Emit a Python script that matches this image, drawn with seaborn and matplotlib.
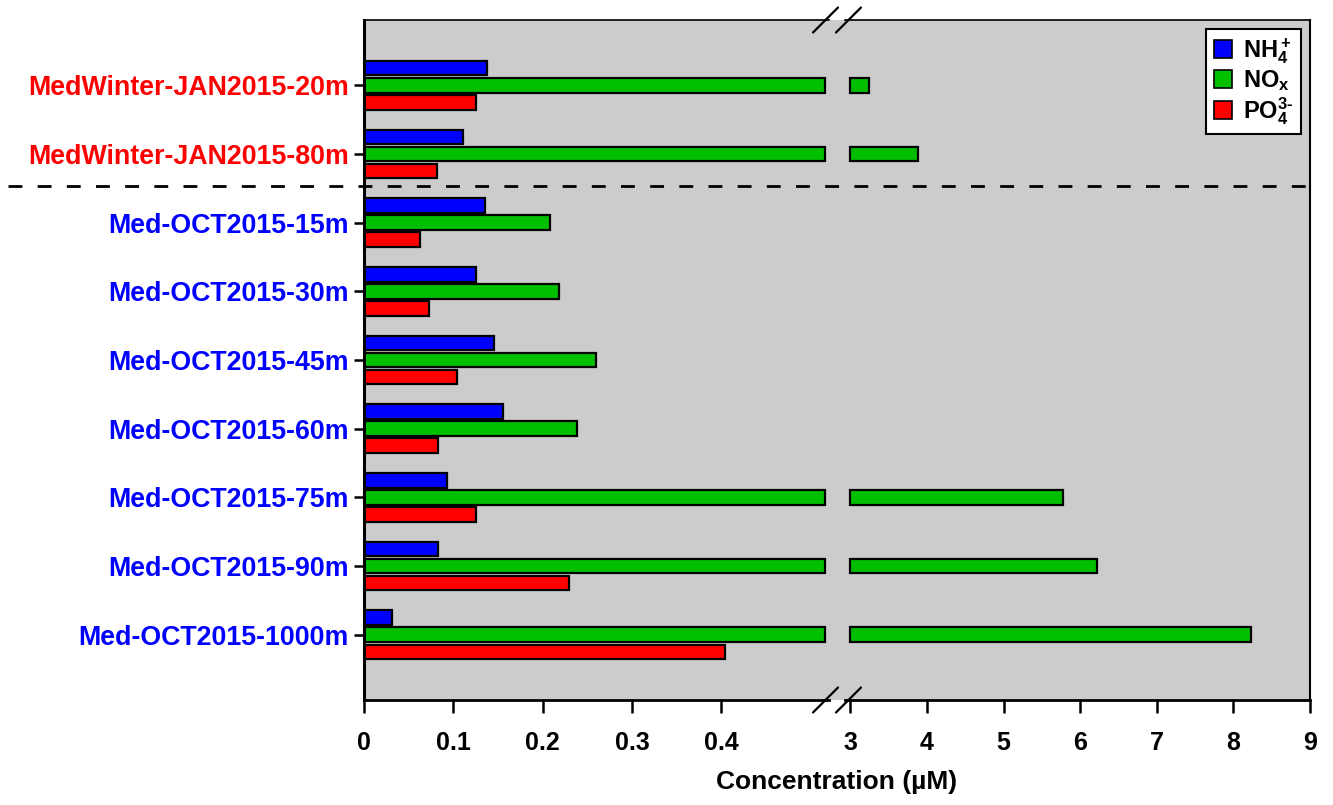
import matplotlib
matplotlib.use("Agg")
import matplotlib.pyplot as plt
from matplotlib.patches import Patch, Rectangle
from matplotlib.lines import Line2D
from matplotlib.ticker import FuncFormatter
import seaborn as sns
import pandas as pd

# ---- data -------------------------------------------------------------
samples = [
    "MedWinter-JAN2015-20m", "MedWinter-JAN2015-80m",
    "Med-OCT2015-15m", "Med-OCT2015-30m", "Med-OCT2015-45m",
    "Med-OCT2015-60m", "Med-OCT2015-75m", "Med-OCT2015-90m",
    "Med-OCT2015-1000m",
]
sample_colors = ["#ff0000", "#ff0000"] + ["#0000ff"] * 7
nh4 = [0.138, 0.111, 0.136, 0.125, 0.146, 0.156, 0.093, 0.083, 0.031]
nox = [3.24, 3.88, 0.208, 0.218, 0.260, 0.238, 5.78, 6.22, 8.23]
po4 = [0.125, 0.082, 0.063, 0.073, 0.104, 0.083, 0.125, 0.229, 0.404]

nutrients = ["NH4", "NOx", "PO4"]
nutrient_labels = [r"NH$_4^+$", r"NO$_\mathrm{x}$", r"PO$_4^{3\text{-}}$"]
palette = {"NH4": "#0000ff", "NOx": "#00c000", "PO4": "#ff0000"}

left_ticks = [0, 0.1, 0.2, 0.3, 0.4]
right_ticks = [3, 4, 5, 6, 7, 8, 9]

# broken axis: low segment and high segment
low_max = 0.5207      # end of the low segment
low_cap = 0.516       # bars longer than the low segment stop here
high_start = 3.0      # bars resume at this value in the high segment
high_min, high_max = 2.93, 9.0

df = pd.DataFrame({"sample": samples, "NH4": nh4, "NOx": nox, "PO4": po4})
long = df.melt(id_vars="sample", var_name="nutrient", value_name="conc")
long["conc_low"] = long["conc"].clip(upper=low_cap)

# ---- style ------------------------------------------------------------
sns.set_style("white")
plt.rcParams["font.family"] = ["Liberation Sans", "DejaVu Sans"]
plt.rcParams["font.weight"] = "bold"
plt.rcParams["text.color"] = "black"
plt.rcParams["axes.labelcolor"] = "black"
plt.rcParams["xtick.color"] = "black"
plt.rcParams["ytick.color"] = "black"
plt.rcParams["mathtext.fontset"] = "custom"
plt.rcParams["mathtext.rm"] = "Liberation Sans:bold"
plt.rcParams["mathtext.it"] = "Liberation Sans:bold"
plt.rcParams["mathtext.bf"] = "Liberation Sans:bold"

bg = "#cccccc"
W, H = 1333, 805
fig = plt.figure(figsize=(W / 100, H / 100), dpi=100)

ax_bottom = (H - 700) / H
ax_height = 680 / H
ax_l = fig.add_axes([364 / W, ax_bottom, 465 / W, ax_height])
ax_r = fig.add_axes([845 / W, ax_bottom, 465 / W, ax_height])

bar_kw = dict(orient="h", hue="nutrient", hue_order=nutrients, palette=palette,
              order=samples, width=0.745, gap=0.15, edgecolor="black",
              linewidth=1.6, saturation=1, legend=False)

sns.barplot(data=long, x="conc_low", y="sample", ax=ax_l, **bar_kw)
sns.barplot(data=long, x="conc", y="sample", ax=ax_r, **bar_kw)

# in the high segment, long bars restart at the break value
for p in ax_r.patches:
    w = p.get_width()
    if w > high_start:
        p.set_x(high_start)
        p.set_width(w - high_start)

for ax in (ax_l, ax_r):
    ax.set_facecolor(bg)
    ax.set_ylim(len(samples) - 0.05, -0.95)
    ax.set_xlabel("")
    ax.set_ylabel("")
    ax.tick_params(axis="x", direction="out", length=9, width=1.8,
                   labelsize=18, pad=13, bottom=True, labelcolor="black")

ax_l.set_xlim(0, low_max)
ax_l.set_xticks(left_ticks)
ax_l.xaxis.set_major_formatter(FuncFormatter(lambda v, _: "0" if v == 0 else f"{v:g}"))
ax_r.set_xlim(high_min, high_max)
ax_r.set_xticks(right_ticks)

ax_l.tick_params(axis="y", direction="out", length=7, width=1.8,
                 labelsize=19.25, pad=4, left=True)
for lab, c in zip(ax_l.get_yticklabels(), sample_colors):
    lab.set_color(c)
    lab.set_fontweight("bold")
ax_r.tick_params(axis="y", left=False, labelleft=False)

for s in ax_l.spines.values():
    s.set_color("black")
ax_l.spines["left"].set_linewidth(2.2)
ax_l.spines["bottom"].set_linewidth(2.0)
ax_l.spines["top"].set_linewidth(1.2)
ax_l.spines["right"].set_visible(False)
for s in ax_r.spines.values():
    s.set_color("black")
ax_r.spines["left"].set_visible(False)
ax_r.spines["bottom"].set_linewidth(2.0)
ax_r.spines["top"].set_linewidth(1.2)
ax_r.spines["right"].set_linewidth(1.5)

# grey fill across the gap between the two segments
x0 = ax_l.get_position().x1
x1 = ax_r.get_position().x0
fig.patches.append(Rectangle((x0, ax_bottom), x1 - x0, ax_height,
                             transform=fig.transFigure, facecolor=bg,
                             edgecolor="none", zorder=-1))

# break marks on top and bottom edges
xc = (x0 + x1) / 2
dx, dy = 12.5 / W, 12.5 / H
sep = 23 / W
for ybase in (ax_bottom, ax_bottom + ax_height):
    for off in (-sep / 2, sep / 2):
        fig.add_artist(Line2D([xc + off - dx, xc + off + dx],
                              [ybase - dy, ybase + dy],
                              transform=fig.transFigure, color="black",
                              lw=1.6, zorder=10))

# separator between winter and October samples
ax_r.plot([-1.8, 1.0], [1.46, 1.46], transform=ax_r.get_yaxis_transform(),
          ls=(0, (5, 5.5)), color="black", lw=2, clip_on=False, zorder=5)

# legend
handles = [Patch(facecolor=palette[n], edgecolor="black", linewidth=1.2)
           for n in nutrients]
leg = ax_r.legend(handles, nutrient_labels, loc="upper right", fontsize=17,
                  frameon=True, fancybox=False, edgecolor="black",
                  framealpha=1, facecolor="white", handlelength=0.8,
                  handleheight=0.8, handletextpad=0.45, borderaxespad=0.4,
                  labelspacing=0.08, borderpad=0.3)
leg.get_frame().set_linewidth(1.5)

fig.text((364 + 1310) / 2 / W, 1 - 782 / H, "Concentration (µM)",
         ha="center", va="center", fontsize=19, fontweight="bold",
         color="black")

fig.savefig("out.png", dpi=100)
